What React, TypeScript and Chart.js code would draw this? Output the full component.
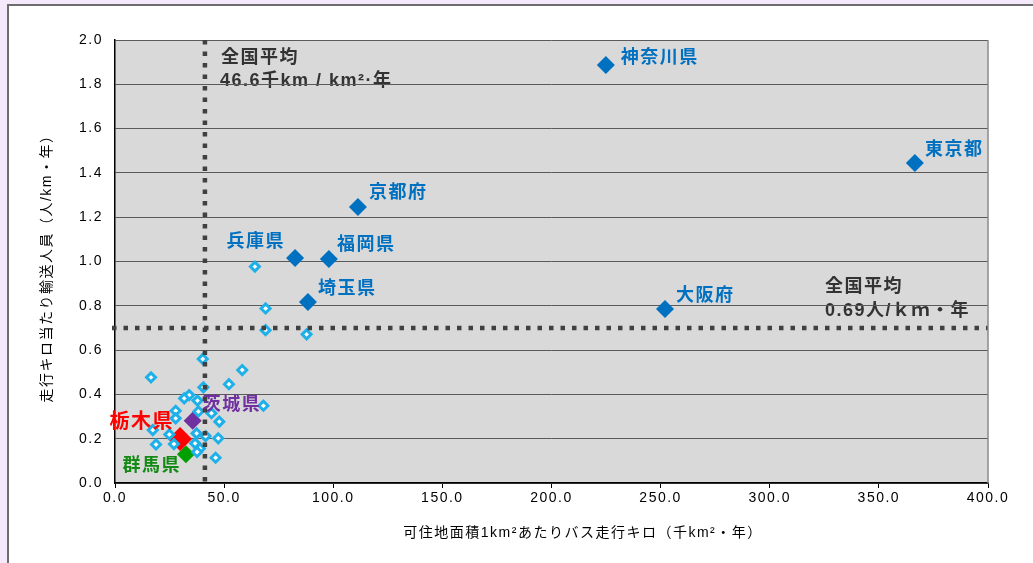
import React, { useEffect, useRef } from "react";
import { Chart, registerables } from "chart.js";
Chart.register(...registerables);

// ---- data ----
const otherX = [40.2, 16.5, 58.3, 52.2, 40.5, 34.0, 31.7, 37.8, 68.0, 27.8, 27.8, 38.2, 44.2, 47.8, 17.3, 24.9, 37.4, 41.5, 47.3, 18.8, 36.7, 38.9, 46.1, 27.0, 64.1, 69.0, 69.0, 87.8, 37.6];
const otherY = [0.56, 0.477, 0.51, 0.446, 0.432, 0.397, 0.382, 0.372, 0.349, 0.326, 0.292, 0.323, 0.315, 0.277, 0.239, 0.219, 0.224, 0.212, 0.202, 0.174, 0.179, 0.156, 0.114, 0.176, 0.977, 0.788, 0.69, 0.671, 0.14];

const majorNames = ["神奈川県", "東京都", "京都府", "兵庫県", "福岡県", "埼玉県", "大阪府"];
const majorX = [224.9, 366.5, 111.3, 82.5, 98.0, 88.4, 252.0];
const majorY = [1.887, 1.445, 1.246, 1.016, 1.011, 0.817, 0.786];

const ibarakiName = "茨城県";
const ibarakiX = [35.6];
const ibarakiY = [0.281];
const tochigiName = "栃木県";
const tochigiX = [29.8];
const tochigiY = [0.199];
const gunmaName = "群馬県";
const gunmaX = [32.5];
const gunmaY = [0.13];

const avgX = 41.2;
const avgY = 0.7;
const avgXLabel = ["全国平均", "46.6千km / km²·年"];
const avgYLabel = ["全国平均", "0.69人/ｋｍ・年"];

const xTitle = "可住地面積1km²あたりバス走行キロ（千km²・年）";
const yTitle = "走行キロ当たり輸送人員（人/km・年）";

// ---- styles (label offsets in px, alignment) ----
const majorLabelStyle: [number, number, CanvasTextAlign][] = [
  [15, -7, "left"],
  [10, -13, "left"],
  [11, -14, "left"],
  [-10, -16, "right"],
  [8, -14, "left"],
  [10, -13, "left"],
  [11, -13, "left"],
];

const FONT = "'Liberation Sans', 'Noto Sans CJK JP', sans-serif";
const CJK = "'Liberation Sans', 'Noto Sans CJK JP', sans-serif";

const toPts = (xs: number[], ys: number[]) => xs.map((x, i) => ({ x, y: ys[i] }));

export default function App() {
  const ref = useRef<HTMLCanvasElement>(null);
  useEffect(() => {
    const canvas = ref.current!;
    const spacing = {
      id: "spacing",
      beforeLayout(chart: any) {
        chart.ctx.letterSpacing = "1.5px";
      },
      beforeDraw(chart: any) {
        const ctx = chart.ctx;
        ctx.letterSpacing = "1.5px";
        const a = chart.chartArea;
        ctx.save();
        ctx.fillStyle = "#d9d9d9";
        ctx.fillRect(a.left, a.top, a.right - a.left, a.bottom - a.top);
        // annotations (under gridlines)
        const xs = chart.scales.x, ys = chart.scales.y;
        ctx.fillStyle = "#333333";
        ctx.font = `bold 18px ${CJK}`;
        ctx.textAlign = "left";
        ctx.textBaseline = "middle";
        const vx = xs.getPixelForValue(avgX);
        ctx.fillText(avgXLabel[0], vx + 16, a.top + 18);
        ctx.fillText(avgXLabel[1], vx + 15, a.top + 41);
        const hy = ys.getPixelForValue(avgY);
        ctx.fillText(avgYLabel[0], a.right - 163, hy - 41);
        ctx.fillText(avgYLabel[1], a.right - 163, hy - 17);
        ctx.restore();
      },
      afterDatasetsDraw(chart: any) {
        const ctx = chart.ctx;
        const a = chart.chartArea;
        const xs = chart.scales.x, ys = chart.scales.y;
        ctx.save();
        // dotted average lines
        ctx.strokeStyle = "#404040";
        ctx.lineWidth = 4.5;
        ctx.setLineDash([4.5, 7]);
        const vx = xs.getPixelForValue(avgX);
        ctx.beginPath();
        ctx.moveTo(vx, a.top);
        ctx.lineTo(vx, a.bottom);
        ctx.stroke();
        const hy = ys.getPixelForValue(avgY);
        ctx.beginPath();
        ctx.moveTo(a.left - 3, hy);
        ctx.lineTo(a.right, hy);
        ctx.stroke();
        ctx.setLineDash([]);
        // right border
        ctx.strokeStyle = "#8a8a8a";
        ctx.lineWidth = 1.5;
        ctx.beginPath();
        ctx.moveTo(a.right, a.top);
        ctx.lineTo(a.right, a.bottom);
        ctx.stroke();
        // labels
        ctx.font = `bold 18px ${CJK}`;
        ctx.textBaseline = "middle";
        const m = chart.getDatasetMeta(1);
        majorNames.forEach((n, i) => {
          const p = m.data[i];
          const [dx, dy, al] = majorLabelStyle[i];
          ctx.fillStyle = "#0070c0";
          ctx.textAlign = al;
          ctx.fillText(n, p.x + dx, p.y + dy);
        });
        const pi = chart.getDatasetMeta(2).data[0];
        ctx.fillStyle = "#7030a0";
        ctx.textAlign = "left";
        ctx.fillText(ibarakiName, pi.x + 10, pi.y - 16);
        const pg = chart.getDatasetMeta(4).data[0];
        ctx.fillStyle = "#138a13";
        ctx.textAlign = "right";
        ctx.fillText(gunmaName, pg.x - 5, pg.y + 12);
        const pt = chart.getDatasetMeta(3).data[0];
        ctx.font = `bold 20px ${CJK}`;
        ctx.fillStyle = "#ff0000";
        ctx.textAlign = "right";
        ctx.fillText(tochigiName, pt.x - 6, pt.y - 16);
        // axis titles
        ctx.fillStyle = "#000";
        ctx.font = `14px ${FONT}`;
        ctx.textAlign = "center";
        ctx.fillText(xTitle, 583, 533);
        ctx.translate(47, 265);
        ctx.rotate(-Math.PI / 2);
        ctx.fillText(yTitle, 0, 0);
        ctx.restore();
      },
    };
    const chart = new Chart(canvas, {
      type: "scatter",
      data: {
        datasets: [
          {
            data: toPts(otherX, otherY),
            pointStyle: "rectRot",
            pointRadius: 4.5,
            borderWidth: 3,
            borderColor: "#1eb0e8",
            backgroundColor: "#ffffff",
          },
          {
            data: toPts(majorX, majorY),
            pointStyle: "rectRot",
            pointRadius: 9,
            borderWidth: 0,
            backgroundColor: "#0070c0",
            borderColor: "#0070c0",
          },
          {
            data: toPts(ibarakiX, ibarakiY),
            pointStyle: "rectRot",
            pointRadius: 9,
            borderWidth: 0,
            backgroundColor: "#7030a0",
          },
          {
            data: toPts(tochigiX, tochigiY),
            pointStyle: "rectRot",
            pointRadius: 12,
            borderWidth: 0,
            backgroundColor: "#ff0000",
          },
          {
            data: toPts(gunmaX, gunmaY),
            pointStyle: "rectRot",
            pointRadius: 9,
            borderWidth: 0,
            backgroundColor: "#00a000",
          },
        ],
      },
      options: {
        responsive: false,
        animation: false,
        layout: { padding: { left: 0, top: 40, right: 45, bottom: 0 } },
        plugins: { legend: { display: false }, tooltip: { enabled: false } },
        scales: {
          x: {
            type: "linear",
            min: 0,
            max: 400,
            afterFit: (s: any) => { s.height = 80; },
            ticks: {
              stepSize: 50,
              padding: 2,
              color: "#000",
              font: { family: FONT, size: 14 },
              callback: (v: any) => Number(v).toFixed(1),
              maxRotation: 0,
            },
            grid: { drawOnChartArea: false, drawTicks: true, tickLength: 5, color: "#000" },
            border: { color: "#000", width: 1.5 },
          },
          y: {
            type: "linear",
            min: 0,
            max: 2,
            afterFit: (s: any) => { s.width = 115; },
            ticks: {
              stepSize: 0.2,
              padding: 12,
              color: "#000",
              font: { family: FONT, size: 14 },
              callback: (v: any) => Number(v).toFixed(1),
            },
            grid: { color: "#5a5a5a", lineWidth: 1, drawTicks: false },
            border: { color: "#000", width: 1.5 },
          },
        },
      },
      plugins: [spacing],
    } as any);
    return () => chart.destroy();
  }, []);
  return (
    <div style={{ position: "fixed", left: 0, top: 0, width: 1033, height: 563, background: "#f5e9fc", overflow: "hidden" }}>
      <div style={{ position: "absolute", left: 7, top: 4, width: 1100, height: 700, background: "#fff", borderLeft: "2px solid #6d6d6d", borderTop: "2px solid #6d6d6d" }} />
      <canvas ref={ref} width={1033} height={563} style={{ position: "absolute", left: 0, top: 0, width: 1033, height: 563 }} />
    </div>
  );
}
